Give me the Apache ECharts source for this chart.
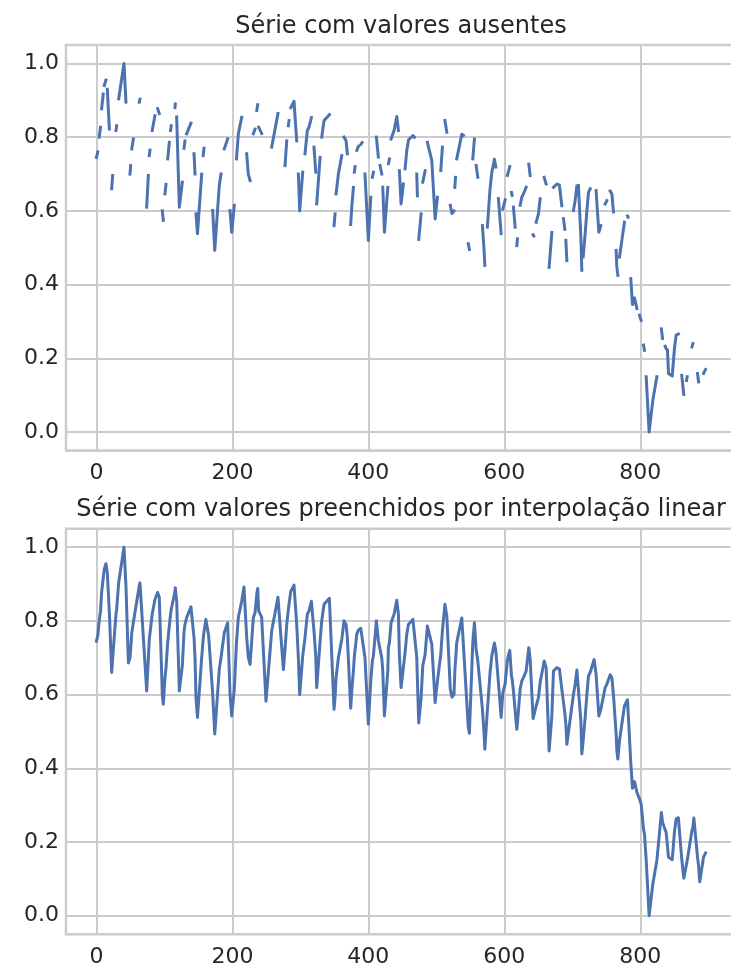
<!DOCTYPE html>
<html>
<head>
<meta charset="utf-8">
<script src="https://cdn.jsdelivr.net/npm/echarts@6/dist/echarts.min.js"></script>
<style>
  html, body { margin: 0; padding: 0; background: #ffffff; }
  #grafico { width: 731px; height: 972px; }
</style>
</head>
<body>
<div id="grafico"></div>
<script>
// Dias com observação e valor normalizado; null marca um trecho sem dados.
const dia = [
  0, 2, null,
  4, 6, null,
  7.6, 10, null,
  11.5, 14, null,
  16, 19, null,
  22.4, 23.8, null,
  28.7, 29.7, null,
  32.7, 40.5, 43.4, null,
  47, null,
  49.3, 50.3, null,
  52, 54.2, null,
  63, 64, null,
  73.9, 76.3, null,
  77.7, 78.7, null,
  82, 86, null,
  90, 92.4, null,
  96.9, 98.3, null,
  100.8, 102.3, null,
  104.8, 107.2, null,
  109, 110, null,
  115.5, 116, null,
  118, 121.9, 126.3, null,
  128.8, 130.2, null,
  132.7, 139, null,
  143.5, 145, null,
  146.4, 148.6, 154.8, null,
  157, 158.2, null,
  161, null,
  165, null,
  171, 174, 180.7, 183.2, null,
  188, 193, null,
  196.5, 199, 202.8, null,
  206, 208.7, 213.7, null,
  217, null,
  221, 223.4, 226, null,
  230.8, 233.3, null,
  235.8, 237.2, null,
  238.6, 243, null,
  249.4, null,
  257.8, 264.2, 267, null,
  275, null,
  277.4, 279.9, null,
  282.3, 283.3, null,
  285.8, 290.6, 294.6, null,
  297, 299, 303.4, null,
  306.8, 310.2, 312.7, 316.2, null,
  320, 322.6, null,
  324, 329, null,
  331.4, 334.8, 342.6, null,
  349.5, 351, null,
  352.5, 355.9, 360.9, null,
  364.2, 367.2, 369.1, null,
  374, 375.6, 378, null,
  379.4, 380.4, null,
  383, 385.3, null,
  388.8, 390.7, null,
  395, 400, 403.5, null,
  405.9, 407.4, null,
  411.8, 414.7, null,
  417.2, 419.7, null,
  421.2, 423.6, 428.6, null,
  429.5, 431, null,
  433.4, 437.8, 441.8, 444.2, null,
  445.6, 448.1, 451.5, null,
  454, 456.5, 458.9, null,
  460.3, 465.5, 467.7, null,
  471.2, 472.1, null,
  474.1, 477.6, null,
  480, 483.5, null,
  486.8, 489, 493.3, 498.2, 501.6, null,
  506.5, 508.9, null,
  512.6, 515.4, null,
  520.5, 523, 526, null,
  527.2, 528.2, null,
  530, 534, 537.4, 539.8, null,
  547, 548.6, null,
  553.6, 556, null,
  558.5, 561, null,
  567.8, 570, 571.3, null,
  575, 579, 581.6, 585.4, 587.5, null,
  591.3, 595.3, null,
  597.8, 601.2, null,
  604.6, 608, null,
  610.5, 611.5, null,
  613.4, 615.9, null,
  618.4, 619.3, null,
  623.3, 625.7, 629.1, 632.1, null,
  636, 638, null,
  642.3, 643.3, null,
  646.8, 650.2, 652.7, null,
  658.6, 661.5, null,
  665.9, 669.9, null,
  672.3, 677.3, 681, 684.6, null,
  687, 689, null,
  690.5, 692, null,
  701.7, 704.2, 706.7, null,
  709, 712.6, 714, null,
  716, 719, 721.4, 723.8, 726.3, null,
  732, null,
  735, 739, 742, null,
  748.3, 750.8, null,
  755.7, 758.2, 760.6, null,
  764.5, 765.5, 767, null,
  769.4, 772.9, 776.7, null,
  781.2, 782, null,
  786, 788.5, 791.5, 795, null,
  798.8, 801.3, null,
  804.7, 806.2, null,
  808.7, 813, 818.5, 824.4, null,
  831, 832.7, null,
  836.6, 838, null,
  840, 841.5, 847, 850.3, 852.8, 856, null,
  861, 864, null,
  868, 869, null,
  876, 877.4, null,
  878.8, null,
  884.2, 885.7, null,
  887.5, null,
  893, 896
];

const valor = [
  0.745, 0.760, null,
  0.800, 0.827, null,
  0.877, 0.917, null,
  0.940, 0.955, null,
  0.930, 0.822, null,
  0.660, 0.696, null,
  0.818, 0.831, null,
  0.904, 1.000, 0.895, null,
  0.686, null,
  0.700, 0.723, null,
  0.768, 0.795, null,
  0.895, 0.903, null,
  0.610, 0.696, null,
  0.750, 0.765, null,
  0.818, 0.858, null,
  0.877, 0.864, null,
  0.600, 0.574, null,
  0.646, 0.672, null,
  0.741, 0.786, null,
  0.818, 0.831, null,
  0.880, 0.890, null,
  0.855, 0.610, 0.678, null,
  0.770, 0.790, null,
  0.809, 0.838, null,
  0.755, 0.700, null,
  0.592, 0.538, 0.700, null,
  0.750, 0.770, null,
  0.804, null,
  0.760, null,
  0.601, 0.493, 0.669, 0.700, null,
  0.768, 0.795, null,
  0.601, 0.542, 0.615, null,
  0.741, 0.809, 0.854, null,
  0.892, null,
  0.755, 0.700, 0.682, null,
  0.809, 0.822, null,
  0.872, 0.888, null,
  0.827, 0.810, null,
  0.582, null,
  0.773, 0.836, 0.864, null,
  0.668, null,
  0.723, 0.790, null,
  0.831, 0.845, null,
  0.880, 0.897, 0.790, null,
  0.700, 0.600, 0.705, null,
  0.755, 0.818, 0.827, 0.853, null,
  0.773, 0.705, null,
  0.619, 0.745, null,
  0.800, 0.845, 0.861, null,
  0.560, 0.592, null,
  0.646, 0.700, 0.750, null,
  0.800, 0.790, 0.755, null,
  0.563, 0.610, 0.664, null,
  0.705, 0.720, null,
  0.764, 0.775, null,
  0.780, 0.785, null,
  0.700, 0.520, 0.637, null,
  0.691, 0.705, null,
  0.800, 0.746, null,
  0.723, 0.700, null,
  0.664, 0.542, 0.664, null,
  0.728, 0.741, null,
  0.795, 0.818, 0.856, 0.818, null,
  0.709, 0.619, 0.673, null,
  0.714, 0.764, 0.790, null,
  0.795, 0.804, 0.800, null,
  0.700, 0.641, null,
  0.523, 0.592, null,
  0.678, 0.709, null,
  0.786, 0.790, 0.737, 0.578, 0.637, null,
  0.709, 0.773, null,
  0.845, 0.813, null,
  0.615, 0.593, 0.600, null,
  0.664, 0.691, null,
  0.741, 0.777, 0.808, 0.805, null,
  0.511, 0.495, null,
  0.741, 0.795, null,
  0.723, 0.691, null,
  0.560, 0.500, 0.452, null,
  0.556, 0.660, 0.705, 0.740, 0.719, null,
  0.633, 0.538, null,
  0.605, 0.630, null,
  0.696, 0.720, null,
  0.650, 0.642, null,
  0.610, 0.556, null,
  0.506, 0.524, null,
  0.615, 0.637, 0.650, 0.664, null,
  0.727, 0.696, null,
  0.535, 0.532, null,
  0.569, 0.592, 0.633, null,
  0.691, 0.673, null,
  0.447, 0.542, null,
  0.664, 0.673, 0.670, 0.614, null,
  0.579, 0.550, null,
  0.520, 0.465, null,
  0.601, 0.628, 0.667, null,
  0.669, 0.529, 0.439, null,
  0.475, 0.540, 0.600, 0.650, 0.660, null,
  0.695, null,
  0.655, 0.542, 0.560, null,
  0.619, 0.628, null,
  0.654, 0.646, 0.597, null,
  0.493, 0.448, 0.425, null,
  0.475, 0.520, 0.569, null,
  0.586, 0.583, null,
  0.416, 0.346, 0.364, 0.335, null,
  0.317, 0.303, null,
  0.236, 0.222, null,
  0.150, 0.000, 0.087, 0.150, null,
  0.280, 0.254, null,
  0.233, 0.227, null,
  0.222, 0.159, 0.152, 0.228, 0.263, 0.266, null,
  0.154, 0.102, null,
  0.140, 0.150, null,
  0.231, 0.240, null,
  0.265, null,
  0.159, 0.136, null,
  0.092, null,
  0.159, 0.170
];

const titulos = [
  'Série com valores ausentes',
  'Série com valores preenchidos por interpolação linear'
];

// Limites dos eixos (margem de 5% em torno dos dados, como no estilo seaborn)
const limiteX = [-44.8, 940.8];
const limiteY = [-0.05, 1.05];

const fonte = 'DejaVu Sans';
const azul = '#4C72B0';
const cinza = '#cccccc';
const corTexto = '#262626';

// Pares [dia, valor]; '-' deixa o ponto vazio para a série
const pontos = [];
let ultimoDia = 0;
for (let i = 0; i < valor.length; i++) {
  if (valor[i] === null) {
    pontos.push([ultimoDia, '-']);
  } else {
    ultimoDia = dia[i];
    pontos.push([dia[i], valor[i]]);
  }
}

const painelTopo = [45, 528.7];
const alturaPainel = 405.5;

function grade(topo) {
  return {
    left: 66, top: topo, width: 670, height: alturaPainel,
    show: true, backgroundColor: '#ffffff',
    borderColor: cinza, borderWidth: 2.5,
    outerBoundsMode: 'none', containLabel: false
  };
}

function eixoX(i) {
  return {
    type: 'value', gridIndex: i,
    min: limiteX[0], max: limiteX[1], splitNumber: 5,
    axisLine: { show: false }, axisTick: { show: false },
    splitLine: { show: true, lineStyle: { color: cinza, width: 2 } },
    axisLabel: {
      showMinLabel: false, showMaxLabel: false, margin: 12,
      color: corTexto, fontFamily: fonte, fontSize: 22,
      formatter: v => String(Math.round(v))
    }
  };
}

function eixoY(i) {
  return {
    type: 'value', gridIndex: i,
    min: limiteY[0], max: limiteY[1], splitNumber: 5,
    axisLine: { show: false }, axisTick: { show: false },
    splitLine: { show: true, lineStyle: { color: cinza, width: 2 } },
    axisLabel: {
      showMinLabel: false, showMaxLabel: false, margin: 7,
      color: corTexto, fontFamily: fonte, fontSize: 22,
      formatter: v => v.toFixed(1)
    }
  };
}

function serie(i, ligarLacunas) {
  return {
    type: 'line', xAxisIndex: i, yAxisIndex: i,
    data: pontos.map(p => p.slice()), connectNulls: ligarLacunas,
    showSymbol: false, symbol: 'none', silent: true,
    lineStyle: { color: azul, width: 3, cap: 'square', join: 'round' },
    itemStyle: { color: azul }
  };
}

const grafico = echarts.init(document.getElementById('grafico'), null, { renderer: 'canvas' });
grafico.setOption({
  animation: false,
  backgroundColor: '#ffffff',
  grid: [grade(painelTopo[0]), grade(painelTopo[1])],
  xAxis: [eixoX(0), eixoX(1)],
  yAxis: [eixoY(0), eixoY(1)],
  series: [serie(0, false), serie(1, true)],
  graphic: titulos.map((t, i) => ({
    type: 'text', x: 401, y: painelTopo[i] - 18.5,
    style: {
      text: t, fill: corTexto, font: '24px "DejaVu Sans"',
      textAlign: 'center', textVerticalAlign: 'middle'
    }
  }))
});
</script>
</body>
</html>
